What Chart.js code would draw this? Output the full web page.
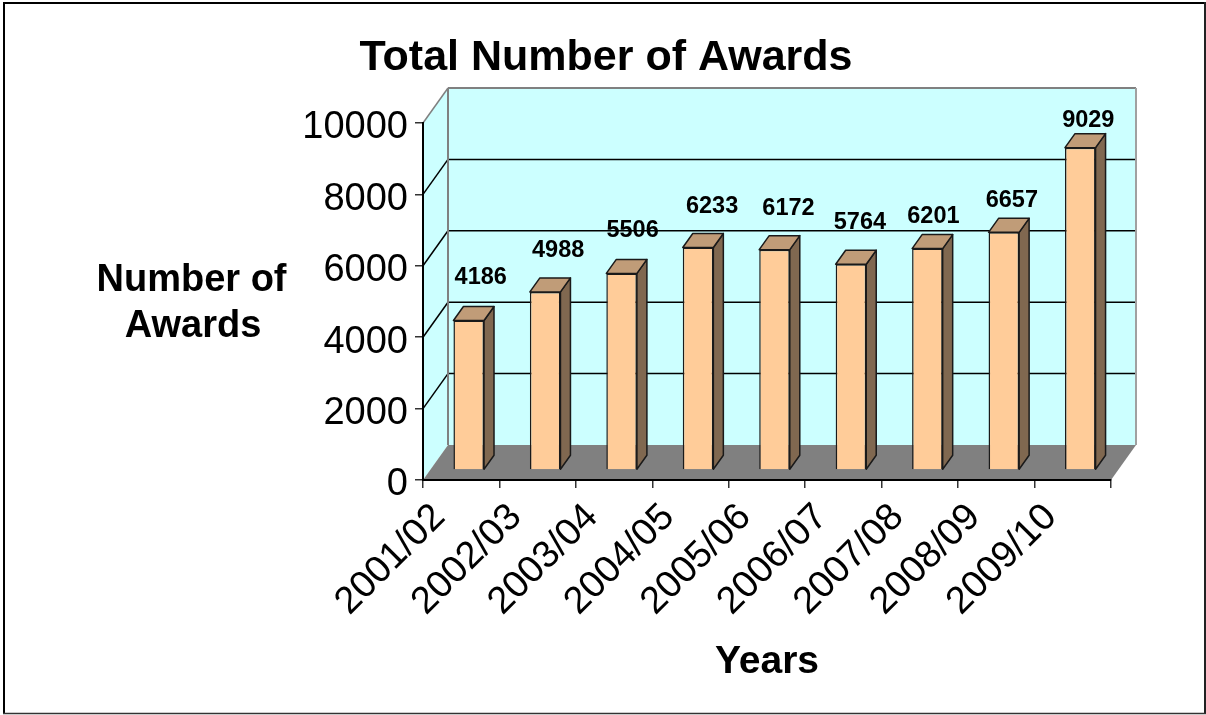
<!DOCTYPE html>
<html><head><meta charset="utf-8">
<style>html,body{margin:0;padding:0;background:#fff}canvas{display:block}</style>
<script src="https://cdn.jsdelivr.net/npm/chart.js@4"></script>
</head><body>
<div style="width:1206px;height:715px"><canvas id="c" width="1206" height="715"></canvas></div>
<script>
const categories = ["2001/02","2002/03","2003/04","2004/05","2005/06","2006/07","2007/08","2008/09","2009/10"];
const awards = [4186,4988,5506,6233,6172,5764,6201,6657,9029];
const yTitleLines = ["Number of","Awards"];
const chartTitle = "Total Number of Awards";
const xTitle = "Years";

const FONT = '"Liberation Sans", Arial, sans-serif';
const WALL = {dx:25, dy:-35};
const BAR = {dx:7.5, dy:-10, depthX:10, depthY:14};
const LABEL_SHIFT = [[12,43],[13,41],[11,43],[14,41],[14,41],[9,42],[6,32],[8,32],[8,27]];

function poly(ctx, pts, fill, stroke, lw){
  ctx.beginPath();
  pts.forEach((p,i)=> i? ctx.lineTo(p[0],p[1]) : ctx.moveTo(p[0],p[1]));
  ctx.closePath();
  if(fill){ctx.fillStyle=fill;ctx.fill();}
  if(stroke){ctx.strokeStyle=stroke;ctx.lineWidth=lw||1;ctx.stroke();}
}
function line(ctx,x1,y1,x2,y2,c,lw){ctx.beginPath();ctx.moveTo(x1,y1);ctx.lineTo(x2,y2);ctx.strokeStyle=c;ctx.lineWidth=lw;ctx.stroke();}

const box3d = {
  id:'box3d',
  beforeDraw(chart){
    const ctx=chart.ctx, a=chart.chartArea, y=chart.scales.y;
    const {left:L,right:R,top:T,bottom:B}=a, dx=WALL.dx, dy=WALL.dy;
    ctx.save();
    ctx.fillStyle='#fff';ctx.fillRect(0,0,chart.width,chart.height);
    line(ctx,4,2,4,714,'#000',2);
    line(ctx,3,3,1206,3,'#000',2);
    line(ctx,1205,2,1205,714,'#222',2);
    line(ctx,3,713.5,1206,713.5,'#333',1.5);
    poly(ctx,[[L+dx,T+dy],[R+dx,T+dy],[R+dx,B+dy],[L+dx,B+dy]],'#ccffff');
    poly(ctx,[[L,T],[L+dx,T+dy],[L+dx,B+dy],[L,B]],'#ccffff');
    y.ticks.forEach(t=>{
      if(t.value===0||t.value===10000) return;
      const p=y.getPixelForValue(t.value);
      line(ctx,L,p,L+dx,p+dy,'#000',1.5);
      line(ctx,L+dx,p+dy,R+dx,p+dy,'#000',1.5);
    });
    line(ctx,L,T,L+dx,T+dy,'#808080',1.5);
    line(ctx,L+dx,T+dy,R+dx,T+dy,'#808080',2);
    line(ctx,L+dx,T+dy,L+dx,B+dy,'#808080',2);
    line(ctx,R+dx,T+dy,R+dx,B+dy,'#a0a0a0',2);
    poly(ctx,[[L,B],[R,B],[R+dx,B+dy],[L+dx,B+dy]],'#808080');
    ctx.restore();
  },
  beforeDatasetsDraw(chart){
    const ctx=chart.ctx;
    ctx.save();
    ctx.translate(BAR.dx,BAR.dy);
    chart.getDatasetMeta(0).data.forEach(b=>{
      const r=b.x+b.width/2, l=b.x-b.width/2, t=b.y, bt=b.base, dx=BAR.depthX, dy=BAR.depthY;
      ctx.lineJoin='round';
      poly(ctx,[[r,t],[r+dx,t-dy],[r+dx,bt-dy],[r,bt]],'#806850','#1a1a1a',1.5);
      poly(ctx,[[l,t],[l+dx,t-dy],[r+dx,t-dy],[r,t]],'#c09c78','#1a1a1a',1.5);
    });
  },
  afterDatasetsDraw(chart){
    const ctx=chart.ctx;
    ctx.restore();
    ctx.save();
    ctx.fillStyle='#000';ctx.textAlign='center';ctx.textBaseline='middle';
    ctx.font='bold 23.5px '+FONT;
    chart.getDatasetMeta(0).data.forEach((b,i)=>{
      ctx.fillText(String(awards[i]), b.x+BAR.dx+LABEL_SHIFT[i][0], b.y+BAR.dy-LABEL_SHIFT[i][1]);
    });
    ctx.font='bold 38px '+FONT;
    ctx.fillText(yTitleLines[0],191.5,281);
    ctx.fillText(yTitleLines[1],193,327);
    ctx.restore();
  }
};

new Chart(document.getElementById('c'),{
  type:'bar',
  data:{labels:categories,datasets:[{data:awards,backgroundColor:'#ffcc99',borderColor:'#1a1a1a',borderWidth:1.5,
    barPercentage:0.8,categoryPercentage:0.5,clip:false}]},
  plugins:[box3d],
  options:{
    responsive:false,animation:false,
    layout:{padding:{left:6}},
    plugins:{
      legend:{display:false},tooltip:{enabled:false},
      title:{display:true,text:chartTitle,color:'#000',font:{family:FONT,size:43,weight:'bold',lineHeight:1.2},padding:{top:32,bottom:39.4}}
    },
    scales:{
      x:{
        grid:{offset:true,drawOnChartArea:false,drawTicks:true,tickLength:8,color:'#333',lineWidth:1.5},
        border:{display:true,color:'#000',width:2},
        ticks:{color:'#000',font:{family:FONT,size:38},minRotation:45,maxRotation:45,autoSkip:false,padding:7,labelOffset:-22},
        title:{display:true,text:xTitle,color:'#000',font:{family:FONT,size:39,weight:'bold',lineHeight:1.2},padding:{top:0,bottom:29}},
        afterFit(s){s.height=235;}
      },
      y:{
        min:0,max:10000,
        grid:{drawOnChartArea:false,drawTicks:true,tickLength:8,color:'#333',lineWidth:1.5},
        border:{display:true,color:'#000',width:2},
        ticks:{stepSize:2000,color:'#000',font:{family:FONT,size:38},padding:7,labelOffset:5,callback:v=>String(v)},
        afterFit(s){s.width=417;}
      },
      spacer:{
        position:'right',display:true,
        grid:{display:false},border:{display:false},ticks:{display:false},
        afterFit(s){s.width=95;}
      }
    }
  }
});
</script>
</body></html>
